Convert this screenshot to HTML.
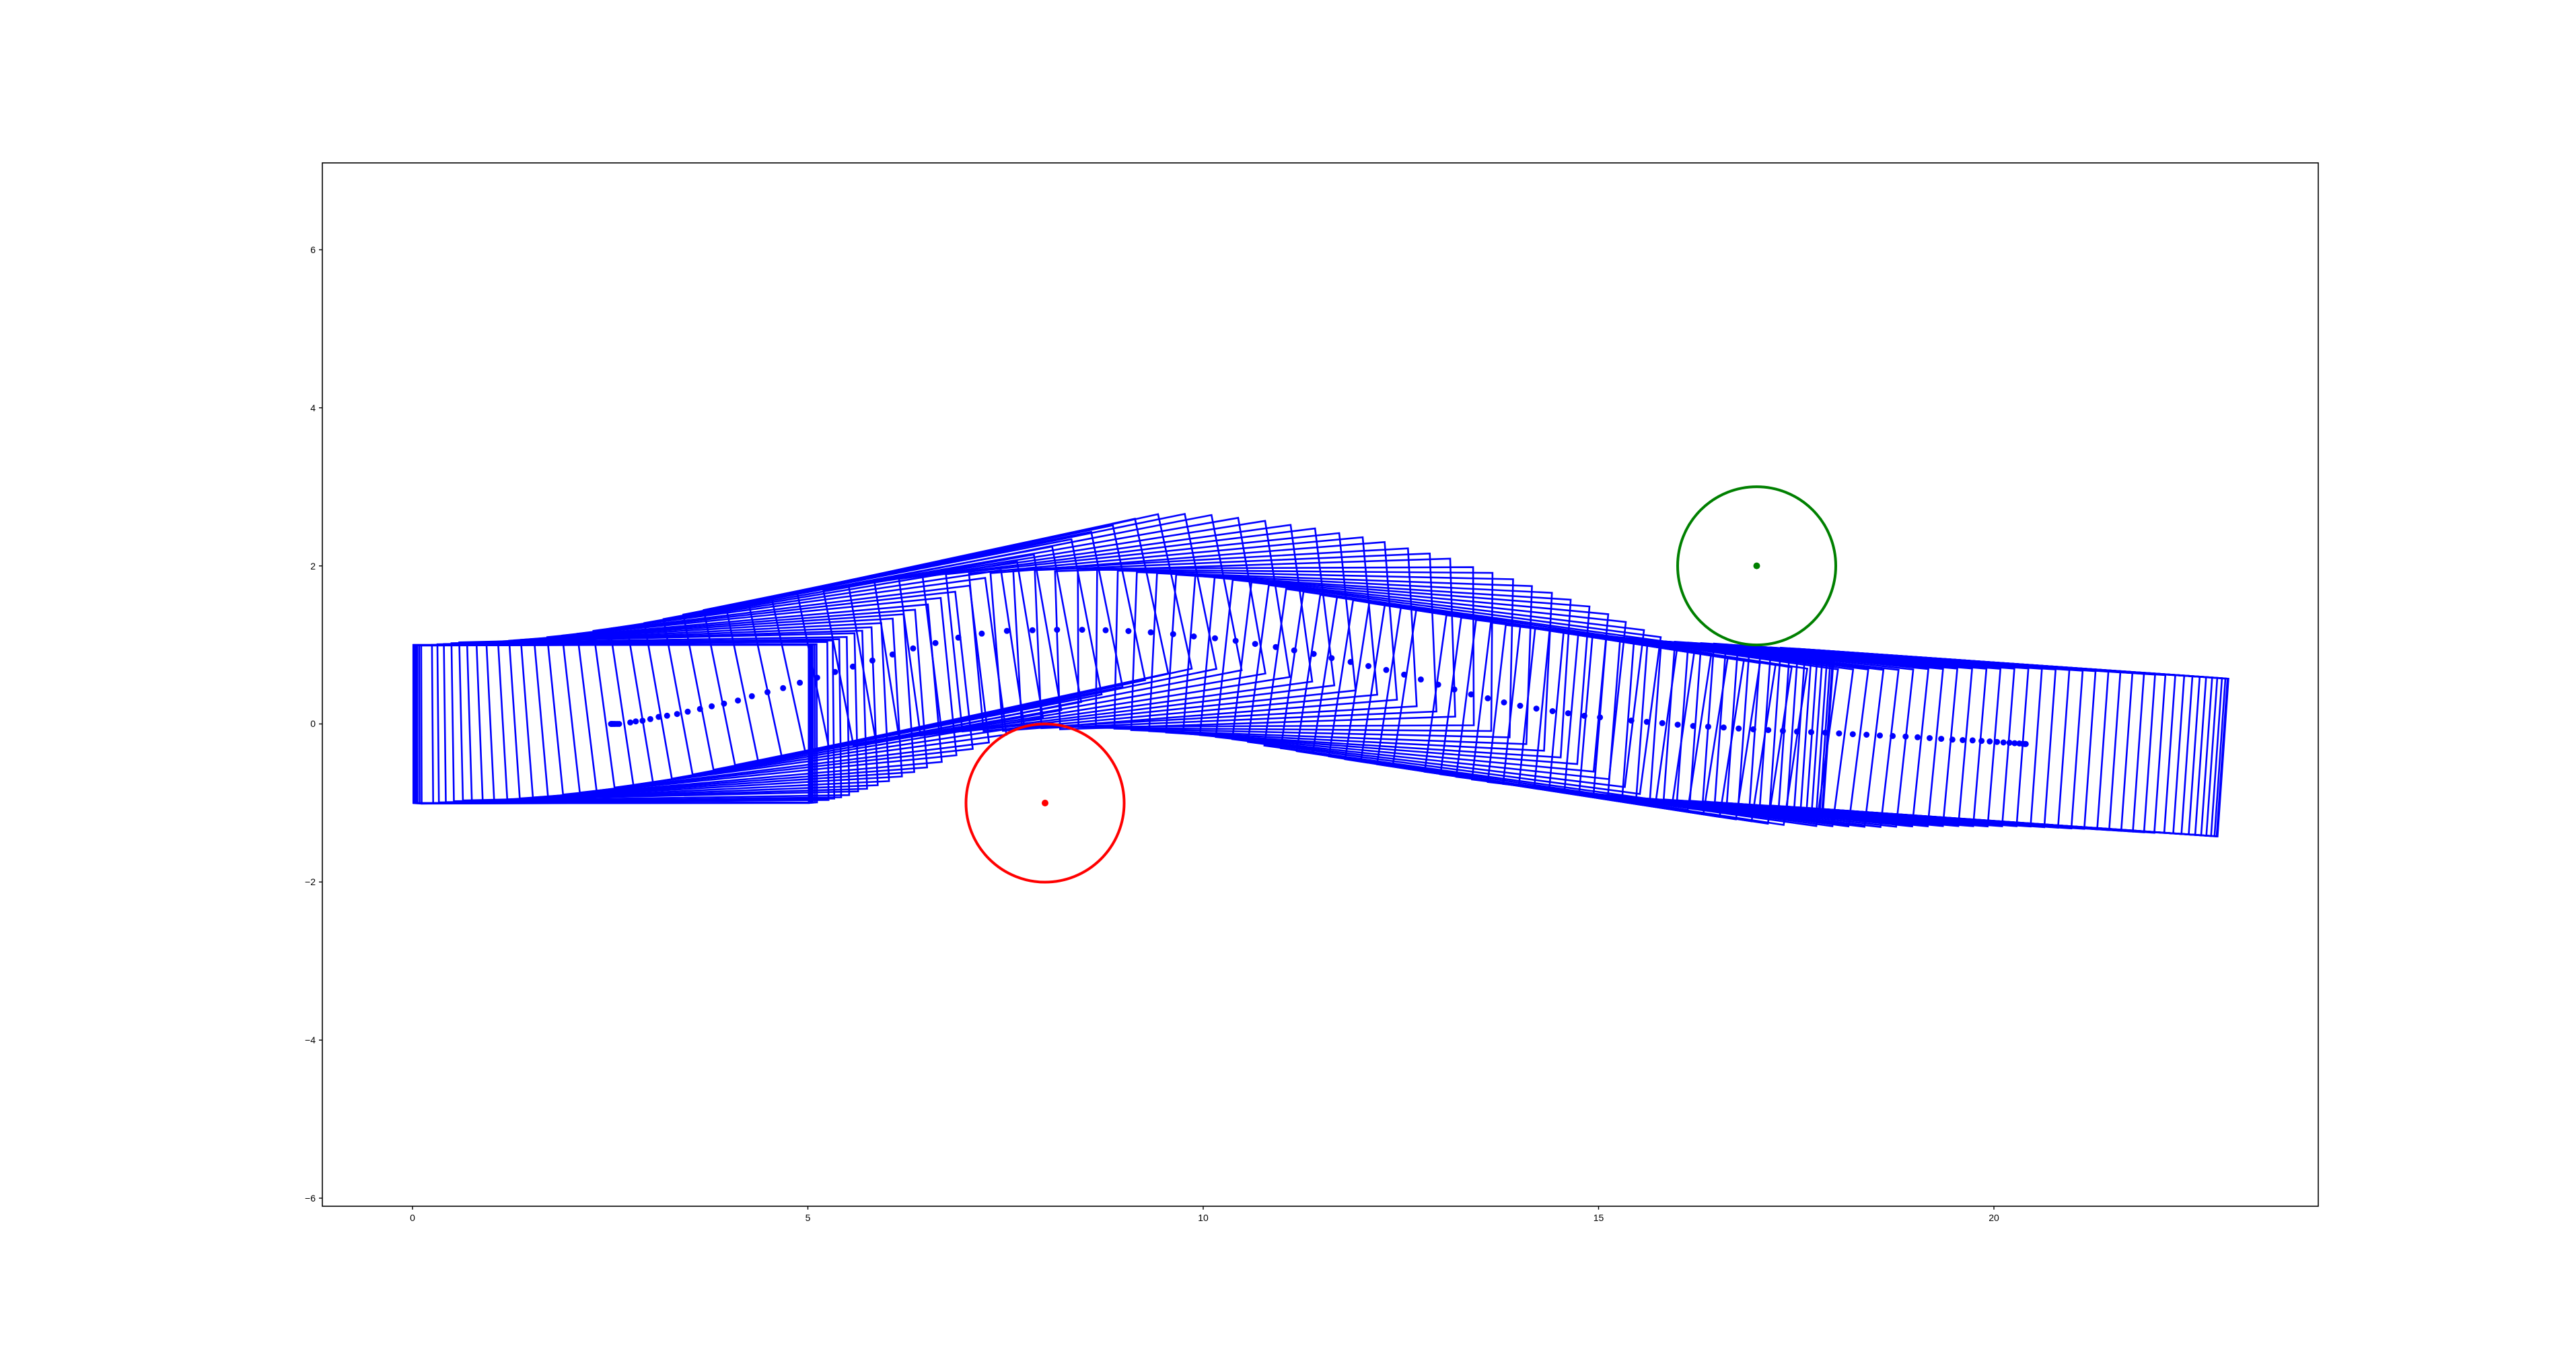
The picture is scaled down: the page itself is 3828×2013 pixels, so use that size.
<!DOCTYPE html>
<html><head><meta charset="utf-8"><style>
html,body{margin:0;padding:0;background:#fff;}
svg{display:block;}
text{font-family:"Liberation Sans","DejaVu Sans",sans-serif;font-size:14px;fill:#000;}
</style></head><body>
<svg id="s" width="3828" height="2013" xmlns="http://www.w3.org/2000/svg">
<rect x="0" y="0" width="3828" height="2013" fill="#fff"/>
<g id="plot"></g>
<rect x="479" y="242" width="2966" height="1550" fill="none" stroke="#000" stroke-width="1.6"/>
<g stroke="#000" stroke-width="1.4">
<line x1="613" y1="1792" x2="613" y2="1797"/>
<line x1="1200.5" y1="1792" x2="1200.5" y2="1797"/>
<line x1="1788" y1="1792" x2="1788" y2="1797"/>
<line x1="2375.5" y1="1792" x2="2375.5" y2="1797"/>
<line x1="2963" y1="1792" x2="2963" y2="1797"/>
<line x1="474" y1="371" x2="479" y2="371"/>
<line x1="474" y1="605.8" x2="479" y2="605.8"/>
<line x1="474" y1="840.7" x2="479" y2="840.7"/>
<line x1="474" y1="1075.5" x2="479" y2="1075.5"/>
<line x1="474" y1="1310.3" x2="479" y2="1310.3"/>
<line x1="474" y1="1545.2" x2="479" y2="1545.2"/>
<line x1="474" y1="1780" x2="479" y2="1780"/>
</g>
<g text-anchor="middle">
<text x="613" y="1814">0</text>
<text x="1200.5" y="1814">5</text>
<text x="1788" y="1814">10</text>
<text x="2375.5" y="1814">15</text>
<text x="2963" y="1814">20</text>
</g>
<g text-anchor="end">
<text x="469" y="376">6</text>
<text x="469" y="611">4</text>
<text x="469" y="846">2</text>
<text x="469" y="1080">0</text>
<text x="469" y="1315">−2</text>
<text x="469" y="1550">−4</text>
<text x="469" y="1785">−6</text>
</g>
</svg>
<script>
(function(){
var pts=[];
[908,909,910,912,914,917,920].forEach(function(x){pts.push([x,1075.5]);});
var z4=[[430,1000],[440,995],[452,992],[466,985],[481,975],[496,970],[514,962],[533,952],[555,940],[576,928],[598,916],[623,902],[648,883],[676,865],[704,847],[734,823],[765,800],[797,775],[829,751],[864,724],[900,697],[937,670],[977,646],[1018,622],[1060,604],[1105,592]];
z4.forEach(function(p){pts.push([580+p[0]/1.206,740+p[1]/3]);});
var z5=[[162,513],[206,511],[251,511],[293,513],[334,516],[374,521],[414,528],[451,537],[489,544],[526,554],[561,566],[598,578],[631,591],[666,605],[698,621],[732,636],[764,652],[796,667],[828,685],[858,704],[889,724],[918,743],[948,762],[978,777],[1007,793],[1036,806],[1065,817],[1094,827],[1122,835],[1151,845],[1179,851]];
z5.forEach(function(p){pts.push([1400+p[0]/1.206,740+p[1]/2.613]);});
var z6=[[38,968],[74,973],[110,978],[146,984],[182,989],[217,992],[253,995],[288,999],[322,1002],[357,1005],[391,1008],[424,1011],[457,1013],[490,1015],[522,1018],[554,1021],[586,1023],[617,1026],[647,1028],[677,1030],[705,1033],[733,1036],[760,1039],[786,1042],[810,1044],[833,1045],[854,1047],[873,1049],[890,1051],[905,1053],[919,1054],[931,1056],[942,1057],[950,1058],[955,1059],[957,1059]];
z6.forEach(function(p){pts.push([2400+p[0]/1.568,700+p[1]/2.613]);});
function interp(tab,x){
  if(x<=tab[0][0]) return tab[0][1];
  for(var k=1;k<tab.length;k++){ if(x<=tab[k][0]){var a=tab[k-1],b=tab[k];return a[1]+(b[1]-a[1])*(x-a[0])/(b[0]-a[0]);} }
  return tab[tab.length-1][1];
}
var ttab=[[2.5,0],[3.0,0.015],[3.5,0.05],[4.0,0.08],[4.3,0.1],[5.0,0.14],[5.35,0.165],[5.83,0.185],[6.36,0.2],[6.9,0.212],[7.2,0.215],[7.55,0.2],[7.9,0.19],[8.2,0.17],[8.5,0.155],[8.8,0.135],[9.1,0.12],[9.4,0.10],[9.67,0.09],[9.95,0.075],[10.2,0.05],[10.47,0.04],[10.7,0.03],[10.95,0.0],[11.2,-0.01],[11.7,-0.04],[12.2,-0.07],[12.65,-0.1],[13.1,-0.13],[14,-0.155],[15,-0.15],[16,-0.12],[17,-0.09],[18,-0.072],[21,-0.068]];
var S=117.5, SY=117.45, X0=613, Y0=1075.5;
var n=pts.length, out='';
for(var i=0;i<n;i++){
  var dx=(pts[i][0]-X0)/S, cy=(Y0-pts[i][1])/SY;
  var th = interp(ttab,dx);
  var co=Math.cos(th), si=Math.sin(th);
  var cs=[[2.5,1],[-2.5,1],[-2.5,-1],[2.5,-1]].map(function(q){
    var x=dx+q[0]*co-q[1]*si, y=cy+q[0]*si+q[1]*co;
    return (X0+x*S).toFixed(1)+','+(Y0-y*SY).toFixed(1);
  });
  out+='<polygon points="'+cs.join(' ')+'" fill="none" stroke="#0000ff" stroke-width="2.6" stroke-linejoin="miter"/>';
}
for(var i=0;i<n;i++){out+='<circle cx="'+pts[i][0].toFixed(1)+'" cy="'+pts[i][1].toFixed(1)+'" r="4.5" fill="#0000ff"/>';}
out+='<circle cx="1553" cy="1193" r="117.5" fill="none" stroke="#ff0000" stroke-width="4"/><circle cx="1553" cy="1193" r="5" fill="#ff0000"/>';
out+='<circle cx="2610.5" cy="840.6" r="117.5" fill="none" stroke="#008000" stroke-width="4"/><circle cx="2610.5" cy="840.6" r="5" fill="#008000"/>';
document.getElementById('plot').innerHTML=out;
})();
</script>
</body></html>
